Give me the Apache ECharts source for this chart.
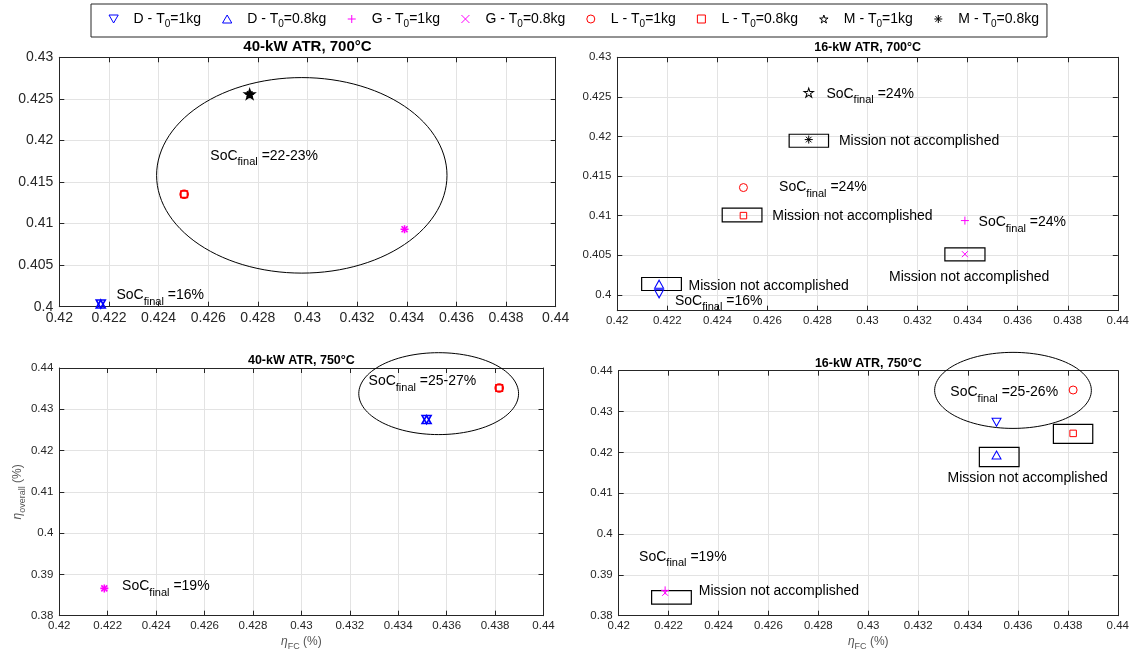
<!DOCTYPE html>
<html><head><meta charset="utf-8">
<script src="https://cdn.jsdelivr.net/npm/echarts@6/dist/echarts.min.js"></script>
<style>html,body{margin:0;padding:0;background:#fff}#c{width:1132px;height:653px}</style>
</head><body><div id="c"></div>
<script>
// ---------------- data ----------------
const panelTitles = ['40-kW ATR, 700°C', '16-kW ATR, 700°C', '40-kW ATR, 750°C', '16-kW ATR, 750°C'];
const seriesNames = ['D - T_{0}=1kg', 'D - T_{0}=0.8kg', 'G - T_{0}=1kg', 'G - T_{0}=0.8kg',
                     'L - T_{0}=1kg', 'L - T_{0}=0.8kg', 'M - T_{0}=1kg', 'M - T_{0}=0.8kg'];
// [eta_FC, eta_overall] for panels [TL, TR, BL, BR]
const D_1kg  = [[0.42167, 0.40032], [0.42167, 0.40013], [0.43517, 0.42751], [0.43514, 0.42736]];
const D_08kg = [[0.42167, 0.40032], [0.42167, 0.40135], [0.43517, 0.42751], [0.43514, 0.41935]];
const G_1kg  = [[0.43391, 0.40932], [0.43389, 0.40938], [0.42186, 0.38661], [0.42186, 0.38620]];
const G_08kg = [[0.43391, 0.40932], [0.43389, 0.40514], [0.42186, 0.38661], [0.42186, 0.38560]];
const L_1kg  = [[0.42503, 0.41352], [0.42504, 0.41355], [0.43817, 0.43516], [0.43821, 0.43527]];
const L_08kg = [[0.42503, 0.41352], [0.42504, 0.41001], [0.43817, 0.43516], [0.43821, 0.42465]];
const M_1kg  = [[0.42767, 0.42556], [0.42765, 0.42554], null, null];
const M_08kg = [[0.42767, 0.42556], [0.42765, 0.41961], null, null];

const xRange = [0.42, 0.44];
const xStep = 0.002;
const yMins = [0.4, 0.398, 0.38, 0.38];
const yMaxs = [0.43, 0.43, 0.44, 0.44];
const ySteps = [0.005, 0.005, 0.01, 0.01];
const yTicksTR = [0.4, 0.405, 0.41, 0.415, 0.42, 0.425, 0.43];

// ellipses [cx, cy, rx, ry] in data units
const ellipseTL = [0.42977, 0.41580, 0.00585, 0.01176];
const ellipseBL = [0.43567, 0.43379, 0.00330, 0.00992];
const ellipseBR = [0.43580, 0.43518, 0.00314, 0.00931];
// boxes [x0, y0, x1, y1] in data units
const boxesTR = [[0.426867, 0.418641, 0.428441, 0.420282], [0.424192, 0.409217, 0.425780, 0.410942],
                 [0.433090, 0.404295, 0.434692, 0.405936], [0.420973, 0.400551, 0.422561, 0.402192]];
const boxesBR = [[0.437419, 0.422204, 0.438996, 0.426857], [0.434452, 0.416490, 0.436043, 0.421224],
                 [0.421319, 0.382857, 0.422910, 0.386122]];
// annotations [x, y, text]
const annotTL = [[0.426085, 0.41814, 'SoC_{final} =22-23%'], [0.422302, 0.40136, 'SoC_{final} =16%']];
const annotTR = [[0.428355, 0.425372, 'SoC_{final} =24%'], [0.428856, 0.419356, 'Mission not accomplished'],
                 [0.426466, 0.41355, 'SoC_{final} =24%'], [0.426195, 0.40989, 'Mission not accomplished'],
                 [0.434435, 0.409175, 'SoC_{final} =24%'], [0.430858, 0.402276, 'Mission not accomplished'],
                 [0.422847, 0.40114, 'Mission not accomplished'], [0.422303, 0.399247, 'SoC_{final} =16%']];
const annotBL = [[0.432774, 0.436855, 'SoC_{final} =25-27%'], [0.422594, 0.387177, 'SoC_{final} =19%']];
const annotBR = [[0.43329, 0.434694, 'SoC_{final} =25-26%'], [0.433176, 0.413796, 'Mission not accomplished'],
                 [0.420817, 0.394449, 'SoC_{final} =19%'], [0.423211, 0.386041, 'Mission not accomplished']];

// ---------------- style ----------------
const FONT = '"Liberation Sans", Arial, Helvetica, sans-serif';
const AX = '#262626';
const GRIDC = '#e3e3e3';
const grids = [
  {left: 59.3, top: 57.3, width: 496.4, height: 249.4},
  {left: 617.3, top: 57.3, width: 500.7, height: 253.4},
  {left: 59.3, top: 368, width: 484.2, height: 247.7},
  {left: 618.7, top: 370.7, width: 499.3, height: 245}
];
const tickFont = [14, 11.5, 11.5, 11.5];
const titleFont = [15, 12.5, 12.5, 12.5];
const titleTop = [37.5, 39.5, 352.5, 355.2];
const markerLW = [1.6, 1, 1.6, 1];

const STAR = 'path://M5,0L6.123,3.455L9.755,3.455L6.817,5.590L7.939,9.045L5,6.91L2.061,9.045L3.183,5.590L0.245,3.455L3.877,3.455Z';
const SQUARE = 'path://M0,0L10,0L10,10L0,10Z';
const markers = [
  {sym: 'path://M0,0L10,0L5,8.66Z', size: [9, 8], color: '#0000ff'},
  {sym: 'path://M5,0L10,8.66L0,8.66Z', size: [9, 8], color: '#0000ff'},
  {sym: 'path://M5,0L5,10M0,5L10,5', size: [8, 8], color: '#ff00ff'},
  {sym: 'path://M0,0L10,10M10,0L0,10', size: [6, 6], color: '#ff00ff'},
  {sym: 'circle', size: [8, 8], color: '#ff0000'},
  {sym: SQUARE, size: [6.5, 6.5], color: '#ff0000'},
  {sym: STAR, size: [9.5, 9], color: '#000000'},
  {sym: 'path://M5,0L5,10M0,5L10,5M1.5,1.5L8.5,8.5M8.5,1.5L1.5,8.5', size: [8, 8], color: '#000000'}
];
const seriesData = [D_1kg, D_08kg, G_1kg, G_08kg, L_1kg, L_08kg, M_1kg, M_08kg];

function toRich(s) {
  const parts = s.split(/_\{([^}]*)\}/);
  return parts.map((p, i) => (i % 2 ? '{s|' + p + '}' : (p ? '{a|' + p + '}' : ''))).join('');
}

// ---------------- axes ----------------
const xAxis = [], yAxis = [];
const nameRich = {
  e: {fontSize: 12, fontStyle: 'italic', lineHeight: 18, color: '#555', fontFamily: FONT},
  s: {fontSize: 9, verticalAlign: 'bottom', color: '#555', fontFamily: FONT},
  a: {fontSize: 12, color: '#555', fontFamily: FONT}};
grids.forEach((g, i) => {
  const base = {gridIndex: i, type: 'value', min: xRange[0], max: xRange[1], interval: xStep,
    axisLine: {show: true, onZero: false, lineStyle: {color: AX, width: 1}},
    axisTick: {show: true, inside: true, length: 5, lineStyle: {color: AX}}};
  const bottom = Object.assign({}, base, {position: 'bottom',
    axisLabel: {show: true, margin: 4, color: AX, fontSize: tickFont[i], fontFamily: FONT, showMinLabel: true, showMaxLabel: true},
    splitLine: {show: true, lineStyle: {color: GRIDC, width: 1}}});
  if (i >= 2) {
    Object.assign(bottom, {name: '{e|η}{s|FC}{a| (%)}', nameLocation: 'middle', nameGap: 17,
      nameTextStyle: {color: '#555', fontFamily: FONT, rich: nameRich}});
  }
  const top = Object.assign({}, base, {position: 'top', axisLabel: {show: false}, splitLine: {show: false}});
  xAxis.push(bottom, top);

  const yb = {gridIndex: i, type: 'value', min: yMins[i], max: yMaxs[i],
    axisLine: {show: true, onZero: false, lineStyle: {color: AX, width: 1}},
    axisTick: {show: true, inside: true, length: 5, lineStyle: {color: AX}}};
  if (i === 1) {
    yb.axisTick.customValues = yTicksTR;
  } else {
    yb.interval = ySteps[i];
  }
  const left = Object.assign({}, yb, {position: 'left',
    axisLabel: {show: true, margin: 6, color: AX, fontSize: tickFont[i], fontFamily: FONT, showMinLabel: true, showMaxLabel: true},
    splitLine: {show: true, lineStyle: {color: GRIDC, width: 1}}});
  if (i === 1) left.axisLabel.customValues = yTicksTR;
  if (i === 2) {
    Object.assign(left, {name: '{e|η}{s|overall}{a| (%)}', nameLocation: 'middle', nameGap: 30, nameRotate: 90,
      nameTextStyle: {color: '#555', fontFamily: FONT, rich: nameRich}});
  }
  const right = Object.assign({}, yb, {position: 'right', axisLabel: {show: false}, splitLine: {show: false},
    axisTick: Object.assign({}, yb.axisTick)});
  yAxis.push(left, right);
});

// ---------------- series ----------------
const series = [];
const ellipses = [ellipseTL, null, ellipseBL, ellipseBR];
const boxes = [null, boxesTR, null, boxesBR];
const annots = [annotTL, annotTR, annotBL, annotBR];

grids.forEach((g, gi) => {
  if (ellipses[gi]) {
    series.push({type: 'custom', xAxisIndex: 2 * gi, yAxisIndex: 2 * gi, clip: false, silent: true, z: 1,
      data: [ellipses[gi]],
      renderItem: (params, api) => {
        const cx = api.value(0), cy = api.value(1), rx = api.value(2), ry = api.value(3);
        const pts = [];
        for (let k = 0; k < 120; k++) {
          const t = k / 120 * Math.PI * 2;
          pts.push(api.coord([cx + rx * Math.cos(t), cy + ry * Math.sin(t)]));
        }
        return {type: 'polygon', shape: {points: pts}, style: {fill: 'none', stroke: '#000', lineWidth: 1}};
      }});
  }
  if (boxes[gi]) {
    series.push({type: 'custom', xAxisIndex: 2 * gi, yAxisIndex: 2 * gi, clip: false, silent: true, z: 1,
      data: boxes[gi],
      renderItem: (params, api) => {
        const p0 = api.coord([api.value(0), api.value(3)]);
        const p1 = api.coord([api.value(2), api.value(1)]);
        return {type: 'rect', shape: {x: p0[0], y: p0[1], width: p1[0] - p0[0], height: p1[1] - p0[1]},
          style: {fill: 'none', stroke: '#000', lineWidth: 1.2}};
      }});
  }
  seriesData.forEach((arr, k) => {
    if (!arr[gi]) return;
    const m = markers[k];
    series.push({type: 'scatter', name: seriesNames[k], xAxisIndex: 2 * gi, yAxisIndex: 2 * gi, z: 3,
      symbol: m.sym, symbolSize: m.size, data: [arr[gi]],
      itemStyle: {color: 'transparent', borderColor: m.color, borderWidth: markerLW[gi], opacity: 1},
      emphasis: {disabled: true}});
  });
  const an = annots[gi];
  series.push({type: 'custom', xAxisIndex: 2 * gi, yAxisIndex: 2 * gi, clip: false, silent: true, z: 4,
    data: an.map((a, i) => [a[0], a[1], i]),
    renderItem: (params, api) => {
      const p = api.coord([api.value(0), api.value(1)]);
      return {type: 'text', x: p[0], y: p[1], style: {text: toRich(an[params.dataIndex][2]),
        align: 'left', verticalAlign: 'middle',
        rich: {a: {fontSize: 14, lineHeight: 24, fontFamily: FONT, fill: '#000', color: '#000'},
               s: {fontSize: 11, verticalAlign: 'bottom', fontFamily: FONT, fill: '#000', color: '#000'}}}};
    }});
});

const legendData = seriesNames.map((n, k) => ({name: n, icon: markers[k].sym,
  itemStyle: {color: 'transparent', borderColor: markers[k].color, borderWidth: 1}}));

const option = {
  backgroundColor: '#fff',
  animation: false,
  textStyle: {fontFamily: FONT},
  title: panelTitles.map((t, i) => ({text: t, left: grids[i].left + grids[i].width / 2, top: titleTop[i],
    textAlign: 'center', padding: 0,
    textStyle: {fontSize: titleFont[i], fontWeight: 'bold', color: '#000', fontFamily: FONT, lineHeight: titleFont[i] + 4}})),
  legend: {data: legendData, left: 91, top: 4, orient: 'horizontal', itemWidth: 30, itemHeight: 8, itemGap: 21,
    padding: [8, 8, 8, 17.5], borderColor: AX, borderWidth: 1, backgroundColor: '#fff', selectedMode: false,
    formatter: name => toRich(name),
    textStyle: {color: '#000', fontFamily: FONT, rich: {
      a: {fontSize: 14, lineHeight: 20, color: '#000', fontFamily: FONT},
      s: {fontSize: 10, verticalAlign: 'bottom', color: '#000', fontFamily: FONT}}}},
  grid: grids.map(g => Object.assign({containLabel: false}, g)),
  xAxis: xAxis,
  yAxis: yAxis,
  series: series
};
const chart = echarts.init(document.getElementById('c'), null, {renderer: 'canvas'});
chart.setOption(option);
</script>
</body></html>
